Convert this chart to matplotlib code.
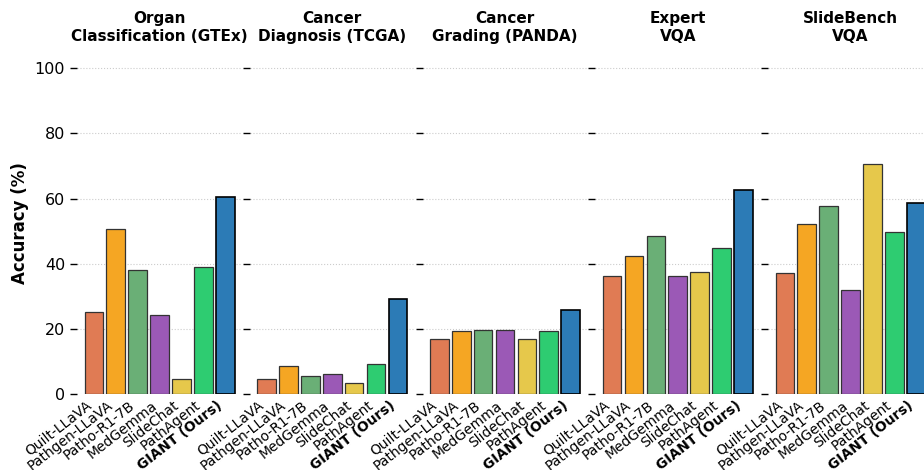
import numpy as np
import matplotlib.pyplot as plt

# accuracy of each model on the five benchmarks
models = ['Quilt-LLaVA', 'Pathgen-LLaVA', 'Patho-R1-7B', 'MedGemma',
          'SlideChat', 'PathAgent', 'GIANT (Ours)']
tasks = ['Organ\nClassification (GTEx)', 'Cancer\nDiagnosis (TCGA)',
         'Cancer\nGrading (PANDA)', 'Expert\nVQA', 'SlideBench\nVQA']

gtex = [25.1, 50.7, 38.2, 24.4, 4.7, 39.0, 60.5]
tcga = [4.5, 8.5, 5.5, 6.2, 3.3, 9.3, 29.3]
panda = [16.9, 19.2, 19.7, 19.7, 17.0, 19.2, 25.7]
expert_vqa = [36.1, 42.3, 48.5, 36.1, 37.6, 44.7, 62.6]
slidebench_vqa = [37.1, 52.1, 57.7, 31.8, 70.6, 49.6, 58.6]

colors = ['#E07B54', '#F5A623', '#6AAF76', '#9B59B6',
          '#E6C84B', '#2ECC71', '#2C7BB6']

scores = [gtex, tcga, panda, expert_vqa, slidebench_vqa]

fig = plt.figure(figsize=(9.24, 4.7), dpi=100)
W, H = 924, 470
ax_left, ax_w, step = 77, 165, 172.75
ax_bottom, ax_top = 394, 52

x = np.arange(len(models))
for i, (task, vals) in enumerate(zip(tasks, scores)):
    ax = fig.add_axes([(ax_left + i * step) / W, 1 - ax_bottom / H,
                       ax_w / W, (ax_bottom - ax_top) / H])
    bars = ax.bar(x, vals, width=0.85, color=colors,
                  edgecolor='#333333', linewidth=0.9)
    bars[-1].set_edgecolor('black')
    bars[-1].set_linewidth(1.2)
    ax.set_ylim(0, 105)
    ax.set_yticks([0, 20, 40, 60, 80, 100])
    ax.yaxis.grid(True, linestyle=':', color='#cccccc', linewidth=0.8)
    ax.set_axisbelow(True)
    for s in ax.spines.values():
        s.set_visible(False)
    ax.set_xticks(x)
    ax.set_xticklabels(models, rotation=38, ha='right', fontsize=10)
    ax.get_xticklabels()[-1].set_fontweight('bold')
    ax.tick_params(axis='x', length=0, pad=3)
    ax.tick_params(axis='y', length=5, width=1, labelsize=11.5)
    if i == 0:
        ax.set_ylabel('Accuracy (%)', fontsize=12, fontweight='bold')
    else:
        ax.tick_params(axis='y', labelleft=False)
    ax.set_title(task, fontsize=11, fontweight='bold', pad=8)

fig.savefig('out.png', dpi=100)
